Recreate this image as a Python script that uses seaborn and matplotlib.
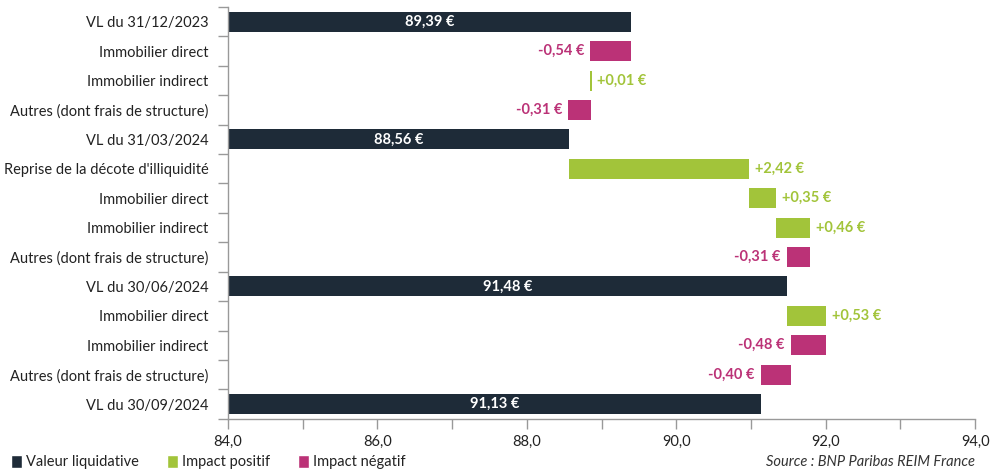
import matplotlib
matplotlib.use("Agg")
import matplotlib.pyplot as plt
from matplotlib.patches import Patch
from matplotlib.ticker import MultipleLocator, FuncFormatter
import seaborn as sns
import pandas as pd
import numpy as np

labels = ["VL du 31/12/2023", "Immobilier direct", "Immobilier indirect",
          "Autres (dont frais de structure)", "VL du 31/03/2024",
          "Reprise de la décote d'illiquidité", "Immobilier direct",
          "Immobilier indirect", "Autres (dont frais de structure)",
          "VL du 30/06/2024", "Immobilier direct", "Immobilier indirect",
          "Autres (dont frais de structure)", "VL du 30/09/2024"]
values = [89.39, -0.54, 0.01, -0.31, 88.56, 2.42, 0.35, 0.46, -0.31,
          91.48, 0.53, -0.48, -0.40, 91.13]
kinds = ["Valeur liquidative", "Impact négatif", "Impact positif", "Impact négatif",
         "Valeur liquidative", "Impact positif", "Impact positif", "Impact positif",
         "Impact négatif", "Valeur liquidative", "Impact positif", "Impact négatif",
         "Impact négatif", "Valeur liquidative"]
base = 84.0
source = "Source : BNP Paribas REIM France"

colors = {"Valeur liquidative": "#1e2b38",
          "Impact positif": "#a2c43a",
          "Impact négatif": "#bb3277"}

# waterfall starts / ends
starts, ends = [], []
level = None
for v, k in zip(values, kinds):
    if k == "Valeur liquidative":
        starts.append(base); ends.append(v); level = v
    else:
        starts.append(level); ends.append(level + v); level = level + v

df = pd.DataFrame({"row": list(range(len(labels))), "end": ends, "kind": kinds})

sns.set_theme(style="white")
plt.rcParams["font.family"] = ["Lato", "DejaVu Sans"]

fig = plt.figure(figsize=(9.97, 4.71), dpi=100)
ax = fig.add_axes([0.2287, 0.111, 0.7493, 0.874])

sns.barplot(data=df, x="end", y="row", hue="kind", orient="y", palette=colors,
            dodge=False, width=0.68, legend=False, ax=ax, linewidth=0, saturation=1,
            hue_order=["Valeur liquidative", "Impact positif", "Impact négatif"])

# shift bars to waterfall position
for p in ax.patches:
    r = int(round(p.get_y() + p.get_height() / 2))
    lo, hi = min(starts[r], ends[r]), max(starts[r], ends[r])
    w = hi - lo
    if w < 0.03:
        lo, w = lo - 0.01, 0.03
    p.set_x(lo)
    p.set_width(w)

def fmt(v):
    return f"{v:.2f}".replace(".", ",")

fs = 10.5
for r, (v, k) in enumerate(zip(values, kinds)):
    if k == "Valeur liquidative":
        ax.text((base + v) / 2, r, f"{fmt(v)} €", color="white", ha="center",
                va="center", fontsize=fs, fontweight="bold")
    elif v >= 0:
        ax.text(ends[r] + 0.08, r, f"+{fmt(v)} €", color=colors[k], ha="left",
                va="center", fontsize=fs, fontweight="bold")
    else:
        ax.text(ends[r] - 0.08, r, f"{fmt(v)} €", color=colors[k], ha="right",
                va="center", fontsize=fs, fontweight="bold")

ax.set_xlim(84, 94)
ax.set_ylim(13.5, -0.5)
ax.xaxis.set_major_locator(MultipleLocator(2))
ax.xaxis.set_minor_locator(MultipleLocator(1))
ax.xaxis.set_major_formatter(FuncFormatter(lambda x, p: f"{x:.1f}".replace(".", ",")))
ax.set_yticks(range(len(labels)))
ax.set_yticklabels(labels)
ax.set_yticks(np.arange(-0.5, len(labels), 1.0), minor=True)
ax.tick_params(axis="y", which="major", length=0, labelsize=fs, pad=14, labelcolor="#222222")
ax.tick_params(axis="y", which="minor", length=7, color="#999999", left=True, width=1)
ax.tick_params(axis="x", which="both", length=7, color="#999999", bottom=True, width=1,
               labelsize=fs, labelcolor="#222222", pad=5)
ax.set_xlabel(""); ax.set_ylabel("")
for s in ["top", "right"]:
    ax.spines[s].set_visible(False)
for s in ["left", "bottom"]:
    ax.spines[s].set_color("#999999")
    ax.spines[s].set_linewidth(1)

handles = [Patch(facecolor=colors[k], label=k) for k in
           ["Valeur liquidative", "Impact positif", "Impact négatif"]]
fig.legend(handles=handles, loc="center left", bbox_to_anchor=(0.005, 0.019), ncol=3,
           frameon=False, fontsize=fs, handlelength=0.75, handleheight=1.0,
           handletextpad=0.3, columnspacing=1.9, labelcolor="#222222",
           borderpad=0.2, borderaxespad=0.2)
fig.text(0.978, 0.019, source, ha="right", va="center", fontsize=fs,
         style="italic", color="#333333")

fig.savefig("out.png", dpi=100)
